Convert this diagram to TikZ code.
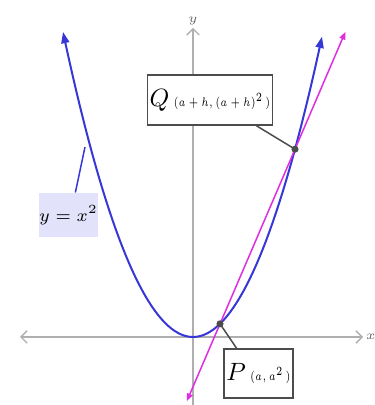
\documentclass[tikz,border=0pt]{standalone}
\usepackage{amsmath,amssymb}
\usepackage{graphicx}
\usepackage{tikz}
\usetikzlibrary{arrows.meta}
\definecolor{curveblue}{RGB}{55,55,215}
\definecolor{linemag}{RGB}{225,45,225}
\definecolor{axisgray}{RGB}{175,175,175}
\definecolor{labfill}{RGB}{226,226,250}
\newcommand{\smallco}[1]{\scalebox{0.74}[1.0]{\tiny$#1$}}
\tikzset{axis/.style={axisgray,line width=0.5pt,-{Straight Barb[length=2.5pt,width=5pt]}},
  lbox/.style={draw=black!70,fill=white,line width=0.5pt,inner sep=1pt},
  pt/.style={fill=black!70,draw=black!70},
  lead/.style={black!70,line width=0.6pt}}

\begin{document}
\begin{tikzpicture}[x=4pt,y=4pt]
\useasboundingbox (-19.3,-6.8) rectangle (18.1,33.7);
\draw[axis] (-0.5,0) -- (-17.3,0);
\draw[axis] (-0.5,0) -- (17.0,0);
\node[anchor=west,black!60,inner sep=0.5pt] (xlab) at (17.1,0) {\tiny $x$};
\draw[axis] (0,-6.8) -- (0,30.9) node[above,black!60,inner sep=1pt] (ylabax) {\tiny $y$};
\draw[curveblue,line width=0.8pt,{Triangle[length=4.5pt,width=3.2pt]}-{Triangle[length=4.5pt,width=3.2pt]}]
  plot[domain=-13:12.9,samples=80] (\x,{0.1805*\x*\x});
\draw[linemag,line width=0.6pt,{Triangle[length=3pt,width=2.4pt]}-{Triangle[length=3pt,width=2.4pt]}]
  (-0.61,-6.4) -- (15.23,30.5);
\coordinate (p) at (2.7,1.316); \coordinate (q) at (10.2,18.78);
\coordinate (lend) at (-10.8,19.0);
\node[lbox,minimum width=45.6pt,minimum height=20pt] (qbox) at (1.7,23.7)
  {$Q$\,\smallco{(a+h,(a+h)^2\,)}};
\node[lbox,minimum width=25.2pt,minimum height=19.6pt] (pbox) at (6.55,-3.65)
  {$P$\,\smallco{(a,a^2\,)}};
\node[fill=labfill,minimum width=17.2pt,minimum height=17.6pt,inner sep=0pt] (ylab) at (-12.45,12.2)
  {\scriptsize $y=x^2$};
\draw[lead] (qbox.-29) -- (q);
\draw[lead] (pbox.131) -- (p);
\draw[curveblue,line width=0.6pt] (ylab.73) -- (lend);
\filldraw[pt] (p) circle (1.2pt); \filldraw[pt] (q) circle (1.2pt);
\end{tikzpicture}
\end{document}
